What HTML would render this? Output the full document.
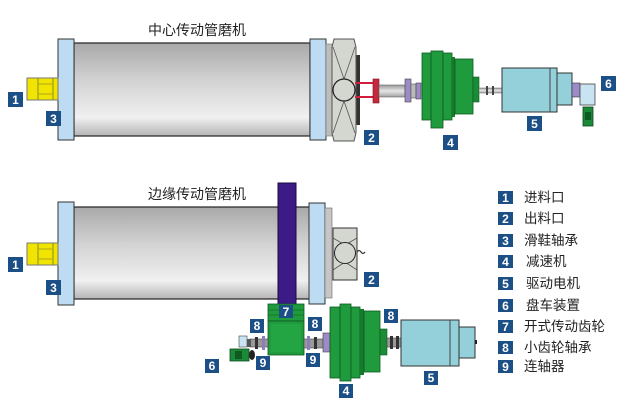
<!DOCTYPE html>
<html><head><meta charset="utf-8"><style>
html,body{margin:0;padding:0;background:#fff;}
svg{display:block;}
.t{font-family:"Liberation Sans","Noto Sans CJK SC",sans-serif;}
.n{font-family:"Liberation Sans",sans-serif;font-weight:bold;font-size:12px;fill:#fff;text-anchor:middle;}
</style></head><body>
<svg width="629" height="407" viewBox="0 0 629 407" xmlns="http://www.w3.org/2000/svg">
<defs>
<linearGradient id="cyl" x1="0" y1="0" x2="0" y2="1">
<stop offset="0" stop-color="#a9a9a9"/><stop offset="0.4" stop-color="#d2d2d2"/><stop offset="0.8" stop-color="#f0f0f0"/><stop offset="1" stop-color="#b5b5b5"/>
</linearGradient>
<linearGradient id="shaft" x1="0" y1="0" x2="0" y2="1">
<stop offset="0" stop-color="#9a9a9a"/><stop offset="0.5" stop-color="#e6e6e6"/><stop offset="1" stop-color="#a0a0a0"/>
</linearGradient>
</defs>

<!-- ===== TOP MILL ===== -->
<text class="t" x="197" y="35" font-size="14" fill="#222" text-anchor="middle">中心传动管磨机</text>
<rect x="74" y="43" width="236" height="93" fill="url(#cyl)" stroke="#222" stroke-width="1.2"/>
<rect x="58" y="39" width="16" height="101" fill="#bddcf3" stroke="#333"/>
<rect x="310" y="39" width="16" height="101" fill="#bddcf3" stroke="#333"/>
<!-- feed -->
<rect x="27" y="78" width="31" height="22" fill="#f0e400" stroke="#777"/>
<line x1="38" y1="78" x2="38" y2="100" stroke="#8a8a20"/>
<line x1="53" y1="78" x2="53" y2="100" stroke="#8a8a20"/>
<line x1="38" y1="84" x2="53" y2="84" stroke="#b0a820"/>
<line x1="38" y1="94" x2="53" y2="94" stroke="#b0a820"/>
<!-- discharge -->
<rect x="326" y="44" width="6" height="92" fill="#bdbdbd" stroke="#777" stroke-width="0.6"/>
<rect x="355" y="55" width="5" height="70" fill="#333"/>
<polygon points="334,39 354,39 356,47 356,133 354,141 334,141 332,133 332,47" fill="#d4d7d0" stroke="#555"/>
<line x1="333" y1="47" x2="344" y2="79" stroke="#555" stroke-width="0.8"/>
<line x1="355" y1="47" x2="344" y2="79" stroke="#555" stroke-width="0.8"/>
<line x1="333" y1="133" x2="344" y2="101" stroke="#555" stroke-width="0.8"/>
<line x1="355" y1="133" x2="344" y2="101" stroke="#555" stroke-width="0.8"/>
<circle cx="344" cy="90" r="11" fill="#d4d7d0" stroke="#222" stroke-width="1.2"/>
<!-- red shaft -->
<line x1="355" y1="83" x2="374" y2="83" stroke="#d21d3c" stroke-width="2"/>
<line x1="355" y1="97" x2="374" y2="97" stroke="#d21d3c" stroke-width="2"/>
<rect x="373" y="79" width="6" height="24" fill="#c42a3c" stroke="#7a1020" stroke-width="0.6"/>
<rect x="379" y="85" width="26" height="12" fill="url(#shaft)" stroke="#666" stroke-width="0.6"/>
<rect x="405" y="79" width="6" height="23" fill="#9c8bc6" stroke="#444" stroke-width="0.6"/>
<rect x="411" y="84" width="5" height="14" fill="#bbb" stroke="#555" stroke-width="0.6"/>
<rect x="416" y="83" width="5" height="16" fill="#9c8bc6" stroke="#444" stroke-width="0.6"/>
<!-- reducer top -->
<rect x="422" y="53" width="9" height="67" fill="#1f9a3c" stroke="#0d5a20" stroke-width="0.8"/>
<rect x="431" y="51" width="12" height="77" fill="#1f9a3c" stroke="#0d5a20" stroke-width="0.8"/>
<rect x="443" y="53" width="9" height="67" fill="#1f9a3c" stroke="#0d5a20" stroke-width="0.8"/>
<rect x="452" y="57" width="3" height="60" fill="#147a2c"/>
<rect x="455" y="59" width="18" height="55" fill="#1f9a3c" stroke="#0d5a20" stroke-width="0.8"/>
<rect x="473" y="77" width="6" height="25" fill="#1a8c36" stroke="#0d5a20" stroke-width="0.6"/>
<rect x="479" y="88" width="23" height="5" fill="url(#shaft)" stroke="#666" stroke-width="0.5"/>
<rect x="486" y="86" width="2" height="9" fill="#444"/>
<rect x="492" y="86" width="2" height="9" fill="#444"/>
<!-- motor top -->
<rect x="502" y="68" width="55" height="44" fill="#93d0da" stroke="#333"/>
<line x1="550" y1="68" x2="550" y2="112" stroke="#444"/>
<rect x="557" y="73" width="15" height="32" fill="#93d0da" stroke="#333"/>
<rect x="572" y="83" width="8" height="14" fill="#9c8bc6" stroke="#333" stroke-width="0.6"/>
<rect x="580" y="84" width="15" height="21" fill="#c8e4f3" stroke="#444" stroke-width="0.8"/>
<rect x="583" y="107" width="10" height="19" fill="#1a8a38" stroke="#0c4a1a" stroke-width="0.8"/>
<rect x="585" y="112" width="6" height="8" fill="#0e5a22"/>

<!-- labels top -->
<rect x="8" y="92" width="15" height="15" fill="#1b4f86"/><text class="n" x="15.5" y="104">1</text>
<rect x="46" y="111" width="15" height="15" fill="#1b4f86"/><text class="n" x="53.5" y="123">3</text>
<rect x="364" y="130" width="15" height="15" fill="#1b4f86"/><text class="n" x="371.5" y="142">2</text>
<rect x="443" y="135" width="15" height="15" fill="#1b4f86"/><text class="n" x="450.5" y="147">4</text>
<rect x="527" y="116" width="15" height="15" fill="#1b4f86"/><text class="n" x="534.5" y="128">5</text>
<rect x="601" y="76" width="15" height="15" fill="#1b4f86"/><text class="n" x="608.5" y="88">6</text>

<!-- ===== BOTTOM MILL ===== -->
<text class="t" x="197" y="199" font-size="14" fill="#222" text-anchor="middle">边缘传动管磨机</text>
<rect x="74" y="207" width="236" height="92" fill="url(#cyl)" stroke="#222" stroke-width="1.2"/>
<rect x="58" y="202" width="16" height="103" fill="#bddcf3" stroke="#333"/>
<rect x="27" y="243" width="31" height="22" fill="#f0e400" stroke="#777"/>
<line x1="38" y1="243" x2="38" y2="265" stroke="#8a8a20"/>
<line x1="53" y1="243" x2="53" y2="265" stroke="#8a8a20"/>
<line x1="38" y1="249" x2="53" y2="249" stroke="#b0a820"/>
<line x1="38" y1="259" x2="53" y2="259" stroke="#b0a820"/>
<rect x="278" y="183" width="18" height="122" fill="#3d1b86" stroke="#1a0a40"/>
<rect x="309" y="203" width="16" height="101" fill="#bddcf3" stroke="#333"/>
<rect x="325" y="208" width="7" height="90" fill="#c6c6c6" stroke="#666" stroke-width="0.6"/>
<rect x="333" y="228" width="24" height="52" fill="#d4d7d0" stroke="#333"/>
<line x1="333" y1="238" x2="345" y2="245" stroke="#555" stroke-width="0.8"/>
<line x1="357" y1="238" x2="345" y2="245" stroke="#555" stroke-width="0.8"/>
<line x1="333" y1="270" x2="345" y2="262" stroke="#555" stroke-width="0.8"/>
<line x1="357" y1="270" x2="345" y2="262" stroke="#555" stroke-width="0.8"/>
<circle cx="345" cy="253" r="10.5" fill="#d4d7d0" stroke="#222"/>
<path d="M357 252 q2 -3 4 0 q2 3 4 0" fill="none" stroke="#333" stroke-width="1.2"/>

<!-- pinion -->
<rect x="268" y="304" width="36" height="17" fill="#1f9a3c" stroke="#0d5a20" stroke-width="0.8"/>
<line x1="268" y1="310" x2="304" y2="310" stroke="#0d5a20" stroke-width="0.6"/>
<line x1="268" y1="315" x2="304" y2="315" stroke="#0d5a20" stroke-width="0.6"/>
<rect x="268" y="321" width="36" height="34" fill="#1f9a3c" stroke="#0d5a20" stroke-width="0.8"/>
<rect x="271" y="324" width="30" height="28" fill="#22a542"/>
<!-- left of pinion -->
<rect x="250" y="339" width="18" height="8" fill="#999" stroke="#444" stroke-width="0.6"/>
<rect x="255" y="337" width="3" height="12" fill="#333"/>
<rect x="262" y="336" width="3" height="14" fill="#8e7cbb"/>
<rect x="239" y="336" width="8" height="11" fill="#c8e4f3" stroke="#444" stroke-width="0.6"/>
<rect x="247" y="339" width="4" height="8" fill="#555"/>
<rect x="230" y="349" width="19" height="12" fill="#1a8a38" stroke="#0c4a1a" stroke-width="0.8"/>
<rect x="235" y="351" width="7" height="8" fill="#0e5a22"/>
<ellipse cx="252" cy="355" rx="3" ry="5" fill="#222"/>
<!-- right of pinion -->
<rect x="304" y="339" width="19" height="9" fill="#999" stroke="#444" stroke-width="0.6"/>
<rect x="307" y="336" width="3" height="14" fill="#8e7cbb"/>
<rect x="314" y="337" width="3" height="12" fill="#333"/>
<rect x="323" y="333" width="7" height="19" fill="#9c8bc6" stroke="#444" stroke-width="0.6"/>
<!-- reducer bottom -->
<rect x="330" y="307" width="10" height="71" fill="#1f9a3c" stroke="#0d5a20" stroke-width="0.8"/>
<rect x="340" y="304" width="11" height="77" fill="#1f9a3c" stroke="#0d5a20" stroke-width="0.8"/>
<rect x="351" y="307" width="9" height="71" fill="#1f9a3c" stroke="#0d5a20" stroke-width="0.8"/>
<rect x="360" y="309" width="4" height="66" fill="#147a2c"/>
<rect x="364" y="311" width="16" height="61" fill="#1f9a3c" stroke="#0d5a20" stroke-width="0.8"/>
<rect x="380" y="329" width="7" height="26" fill="#1a8c36" stroke="#0d5a20" stroke-width="0.6"/>
<rect x="387" y="338" width="14" height="9" fill="#999" stroke="#444" stroke-width="0.6"/>
<rect x="390" y="336" width="3" height="13" fill="#333"/>
<rect x="396" y="336" width="3" height="13" fill="#333"/>
<!-- motor bottom -->
<rect x="401" y="320" width="58" height="46" fill="#93d0da" stroke="#333"/>
<line x1="450" y1="320" x2="450" y2="366" stroke="#444"/>
<rect x="459" y="327" width="16" height="31" fill="#93d0da" stroke="#333"/>
<rect x="475" y="340" width="2" height="4" fill="#222"/>

<!-- labels bottom -->
<rect x="8" y="257" width="15" height="15" fill="#1b4f86"/><text class="n" x="15.5" y="269">1</text>
<rect x="46" y="280" width="15" height="15" fill="#1b4f86"/><text class="n" x="53.5" y="292">3</text>
<rect x="364" y="272" width="15" height="15" fill="#1b4f86"/><text class="n" x="371.5" y="284">2</text>
<rect x="279" y="305" width="14" height="13" fill="#1b4f86"/><text class="n" x="286" y="316">7</text>
<rect x="250" y="319" width="14" height="14" fill="#1b4f86"/><text class="n" x="257" y="330">8</text>
<rect x="308" y="317" width="14" height="14" fill="#1b4f86"/><text class="n" x="315" y="328">8</text>
<rect x="384" y="309" width="14" height="14" fill="#1b4f86"/><text class="n" x="391" y="320">8</text>
<rect x="256" y="356" width="14" height="14" fill="#1b4f86"/><text class="n" x="263" y="367">9</text>
<rect x="306" y="353" width="14" height="14" fill="#1b4f86"/><text class="n" x="313" y="364">9</text>
<rect x="205" y="359" width="14" height="14" fill="#1b4f86"/><text class="n" x="212" y="370">6</text>
<rect x="339" y="384" width="14" height="14" fill="#1b4f86"/><text class="n" x="346" y="395">4</text>
<rect x="424" y="371" width="14" height="14" fill="#1b4f86"/><text class="n" x="431" y="382">5</text>

<!-- legend -->
<g class="t" font-size="13.5" fill="#222">
<rect x="498" y="191" width="15" height="13" fill="#1b4f86"/><text class="n" x="505.5" y="202">1</text><text x="524" y="202">进料口</text>
<rect x="498" y="212" width="15" height="13" fill="#1b4f86"/><text class="n" x="505.5" y="223">2</text><text x="524" y="223">出料口</text>
<rect x="498" y="234" width="15" height="13" fill="#1b4f86"/><text class="n" x="505.5" y="245">3</text><text x="524" y="245">滑鞋轴承</text>
<rect x="498" y="255" width="15" height="13" fill="#1b4f86"/><text class="n" x="505.5" y="266">4</text><text x="526" y="266">减速机</text>
<rect x="498" y="277" width="15" height="13" fill="#1b4f86"/><text class="n" x="505.5" y="288">5</text><text x="526" y="288">驱动电机</text>
<rect x="498" y="299" width="15" height="13" fill="#1b4f86"/><text class="n" x="505.5" y="310">6</text><text x="526" y="310">盘车装置</text>
<rect x="498" y="320" width="15" height="13" fill="#1b4f86"/><text class="n" x="505.5" y="331">7</text><text x="524" y="331">开式传动齿轮</text>
<rect x="498" y="341" width="15" height="13" fill="#1b4f86"/><text class="n" x="505.5" y="352">8</text><text x="524" y="352">小齿轮轴承</text>
<rect x="498" y="360" width="15" height="13" fill="#1b4f86"/><text class="n" x="505.5" y="371">9</text><text x="524" y="371">连轴器</text>
</g>
</svg>
</body></html>
